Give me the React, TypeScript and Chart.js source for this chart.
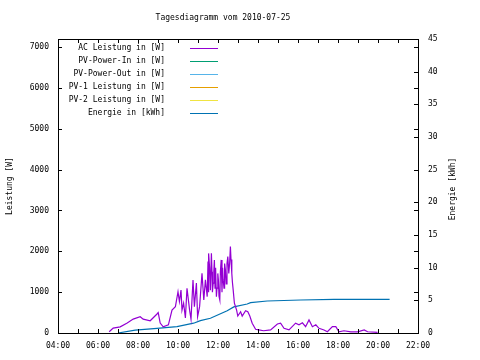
import React, { useEffect, useRef } from "react";
import { Chart, registerables } from "chart.js";

Chart.register(...registerables);

const TITLE = "Tagesdiagramm vom 2010-07-25";
const Y_TITLE = "Leistung [W]";
const Y2_TITLE = "Energie [kWh]";

const seriesLabels = [
  "AC Leistung in [W]",
  "PV-Power-In in [W]",
  "PV-Power-Out in [W]",
  "PV-1 Leistung in [W]",
  "PV-2 Leistung in [W]",
  "Energie in [kWh]",
];
const seriesColors = ["#9400D3", "#009E73", "#56B4E9", "#E69F00", "#F0E442", "#0072B2"];

const xTickHours = [4, 6, 8, 10, 12, 14, 16, 18, 20, 22];
const yTickValues = [0, 1000, 2000, 3000, 4000, 5000, 6000, 7000];
const y2TickValues = [0, 5, 10, 15, 20, 25, 30, 35, 40, 45];

// AC power: hour of day, watts
const acHours = [
  6.56, 6.76, 7.11, 7.46, 7.76, 8.11, 8.26, 8.61, 8.95, 9.01, 9.11, 9.26, 9.52, 9.7, 9.87,
  10.0, 10.07, 10.15, 10.2, 10.28, 10.37, 10.45, 10.58, 10.65, 10.75, 10.82, 10.92, 10.98,
  11.08, 11.2, 11.29, 11.37, 11.46, 11.5, 11.52, 11.54, 11.58, 11.62, 11.67, 11.7, 11.72,
  11.76, 11.79, 11.82, 11.85, 11.88, 11.92, 11.95, 11.99, 12.02, 12.05, 12.09, 12.12, 12.16,
  12.2, 12.23, 12.26, 12.3, 12.33, 12.37, 12.41, 12.45, 12.49, 12.54, 12.58, 12.62, 12.65,
  12.69, 12.72, 12.76, 12.82, 12.93, 12.99, 13.13, 13.21,
  13.38, 13.49, 13.59, 13.71, 13.88, 14.04, 14.28, 14.63, 14.97, 15.13, 15.3, 15.55, 15.88,
  16.05, 16.22, 16.38, 16.55, 16.72, 16.89, 17.05, 17.3, 17.47, 17.72, 17.89, 18.05, 18.3,
  18.64, 18.98, 19.31, 19.48, 19.98,
];
const acWatts = [
  30, 120, 150, 245, 340, 400, 340, 300, 466, 500, 245, 150, 200, 560, 645,
  1010, 770, 1050, 560, 730, 370, 1095, 560, 340, 1300, 645, 1225, 400,
  645, 1460, 810, 1300, 890, 1750, 1000, 1950, 1600, 1050, 1950, 1500, 1000,
  1220, 1500, 1790, 1100, 1600, 890, 1100, 1460, 1300, 900, 810, 1500, 1790,
  1000, 1600, 1300, 1100, 1700, 1545, 1200, 1700, 1870, 1460, 1700, 2115, 1800,
  1460, 1250, 1050, 730, 560, 415, 520, 415,
  545, 520, 415, 240, 90, 75, 55, 75, 220, 240, 115, 75, 240,
  200, 250, 155, 320, 155, 200, 115, 75, 30, 155, 155, 30, 55,
  30, 30, 75, 30, 15,
];

// Energy: hour of day, kWh
const energyHours = [7.0, 7.86, 8.95, 9.95, 10.78, 11.12, 11.62, 12.46, 12.79, 13.46, 13.63, 14.46, 16.13, 17.8, 20.58];
const energyKwh = [0, 0.45, 0.7, 0.97, 1.5, 1.9, 2.25, 3.4, 4.0, 4.44, 4.64, 4.9, 5.05, 5.15, 5.15];

const FONT = "'DejaVu Sans Mono', monospace";
const FONT_SIZE = 8;

const pad2 = (n: number) => (n < 10 ? "0" + n : "" + n);

const decorPlugin = {
  id: "decor",
  afterDraw(chart: any) {
    const ctx = chart.ctx as CanvasRenderingContext2D;
    const { left, right, top, bottom } = chart.chartArea;
    const x = chart.scales.x;
    const y = chart.scales.y;
    const y2 = chart.scales.y2;
    ctx.save();
    ctx.strokeStyle = "#000";
    ctx.lineWidth = 1;
    ctx.strokeRect(Math.round(left) + 0.5, Math.round(top) + 0.5, Math.round(right - left), Math.round(bottom - top));
    const tl = 4;
    ctx.beginPath();
    for (let h = 4; h <= 22; h++) {
      const px = Math.round(x.getPixelForValue(h)) + 0.5;
      ctx.moveTo(px, bottom);
      ctx.lineTo(px, bottom - tl);
      ctx.moveTo(px, top);
      ctx.lineTo(px, top + tl);
    }
    yTickValues.forEach((v) => {
      const py = Math.round(y.getPixelForValue(v)) + 0.5;
      ctx.moveTo(left, py);
      ctx.lineTo(left + tl, py);
      ctx.moveTo(right, py);
      ctx.lineTo(right - tl, py);
    });
    y2TickValues.forEach((v) => {
      const py = Math.round(y2.getPixelForValue(v)) + 0.5;
      ctx.moveTo(right, py);
      ctx.lineTo(right - tl, py);
    });
    ctx.stroke();

    ctx.fillStyle = "#000";
    ctx.font = `${FONT_SIZE}px ${FONT}`;
    ctx.textAlign = "center";
    ctx.textBaseline = "middle";
    ctx.fillText(TITLE, 223, 18);
    ctx.save();
    ctx.translate(10, (top + bottom) / 2);
    ctx.rotate(-Math.PI / 2);
    ctx.fillText(Y_TITLE, 0, 0);
    ctx.restore();
    ctx.save();
    ctx.translate(453, (top + bottom) / 2 + 3);
    ctx.rotate(-Math.PI / 2);
    ctx.fillText(Y2_TITLE, 0, 0);
    ctx.restore();
    ctx.textAlign = "right";
    chart.data.datasets.forEach((ds: any, i: number) => {
      const ry = 47.5 + i * 13;
      ctx.fillStyle = "#000";
      ctx.fillText(ds.label, 165, ry);
      ctx.strokeStyle = ds.borderColor;
      ctx.beginPath();
      ctx.moveTo(190, Math.round(ry) + 0.5);
      ctx.lineTo(218, Math.round(ry) + 0.5);
      ctx.stroke();
    });
    ctx.restore();
  },
};

export default function App() {
  const ref = useRef<HTMLCanvasElement | null>(null);
  useEffect(() => {
    document.body.style.margin = "0";
    const canvas = ref.current!;
    const pts = (xs: number[], ys: number[]) => xs.map((h, i) => ({ x: h, y: ys[i] }));
    const datasets: any[] = seriesLabels.map((label, i) => ({
      label,
      data: [] as any[],
      borderColor: seriesColors[i],
      backgroundColor: seriesColors[i],
      borderWidth: 1,
      pointRadius: 0,
      fill: false,
      yAxisID: "y",
    }));
    datasets[0].data = pts(acHours, acWatts);
    datasets[0].borderWidth = 1.2;
    datasets[5].data = pts(energyHours, energyKwh);
    datasets[5].yAxisID = "y2";
    datasets[5].borderWidth = 1.2;

    const tickFont = { family: FONT, size: FONT_SIZE };
    const setTicks = (vals: number[]) => (s: any) => {
      s.ticks = vals.map((v) => ({ value: v }));
    };
    const chart = new Chart(canvas, {
      type: "line",
      data: { datasets },
      options: {
        animation: false,
        responsive: false,
        devicePixelRatio: 1,
        layout: { padding: { top: 39, left: 0, right: 0, bottom: 0 } },
        plugins: { legend: { display: false }, title: { display: false }, tooltip: { enabled: false } },
        scales: {
          x: {
            type: "linear",
            min: 4,
            max: 22,
            grid: { display: false, drawTicks: false },
            border: { display: false },
            afterBuildTicks: setTicks(xTickHours),
            ticks: {
              padding: 8,
              color: "#000",
              font: tickFont,
              maxRotation: 0,
              autoSkip: false,
              callback: (v: any) => pad2(Number(v)) + ":00",
            },
            afterFit: (s: any) => {
              s.height = 27;
            },
          },
          y: {
            type: "linear",
            position: "left",
            min: 0,
            max: 7200,
            grid: { display: false, drawTicks: false },
            border: { display: false },
            afterBuildTicks: setTicks(yTickValues),
            ticks: {
              padding: 9,
              color: "#000",
              font: tickFont,
              autoSkip: false,
              callback: (v: any) => String(v),
            },
            afterFit: (s: any) => {
              s.width = 58;
            },
          },
          y2: {
            type: "linear",
            position: "right",
            min: 0,
            max: 45,
            grid: { display: false, drawTicks: false },
            border: { display: false },
            afterBuildTicks: setTicks(y2TickValues),
            ticks: { padding: 10, color: "#000", font: tickFont, autoSkip: false, callback: (v: any) => String(v) },
            afterFit: (s: any) => {
              s.width = 62;
            },
          },
        },
      },
      plugins: [decorPlugin],
    } as any);
    return () => chart.destroy();
  }, []);
  return (
    <div style={{ width: 480, height: 360, background: "#fff" }}>
      <canvas ref={ref} width={480} height={360} />
    </div>
  );
}
